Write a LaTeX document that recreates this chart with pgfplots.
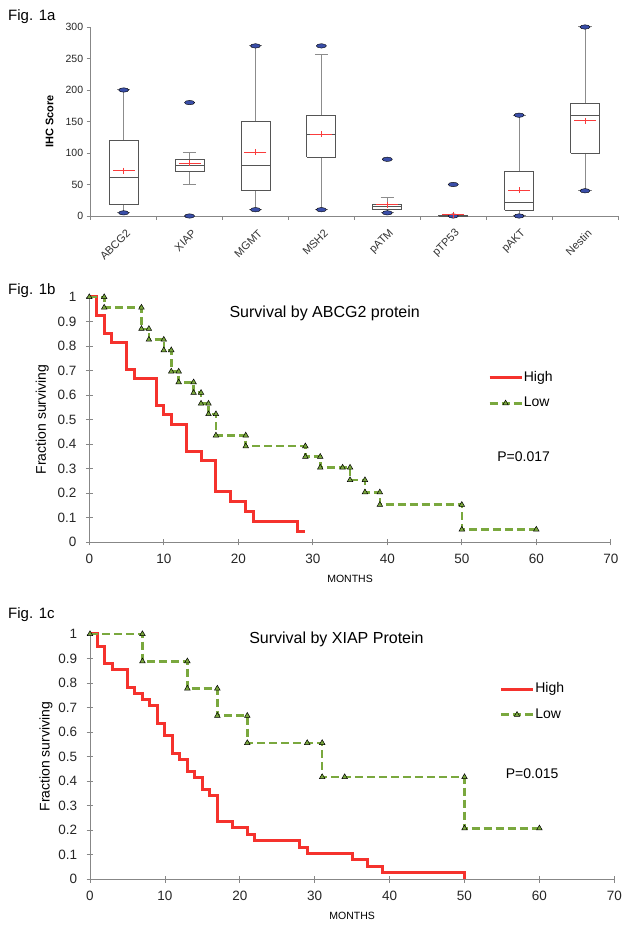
\documentclass[border=0pt]{standalone}
\usepackage{pgfplots}
\pgfplotsset{compat=1.18}
\usepackage{fontspec}
\setmainfont{Liberation Sans}
\definecolor{kmred}{RGB}{245,50,45}
\definecolor{kmgreen}{RGB}{122,168,62}
\definecolor{bluedot}{RGB}{58,78,168}
\definecolor{axgray}{RGB}{135,135,135}
\definecolor{boxgray}{RGB}{85,85,85}
\definecolor{whgray}{RGB}{140,140,140}
\definecolor{meanred}{RGB}{250,60,60}
\newcommand{\fs}[1]{\fontsize{#1bp}{#1bp}\selectfont}
\begin{document}
\begin{tikzpicture}
\useasboundingbox (0bp,0bp) rectangle (631bp,931bp);
\node[anchor=base west, inner sep=0pt, font=\fs{15}] at (8bp,910.3bp) {Fig. 1a};
\node[anchor=base west, inner sep=0pt, font=\fs{15}] at (8bp,636bp) {Fig. 1b};
\node[anchor=base west, inner sep=0pt, font=\fs{15}] at (8bp,312bp) {Fig. 1c};

% ---------------- Panel a: box plots ----------------
\begin{axis}[
  at={(90.7bp,715bp)}, anchor=south west, scale only axis,
  width=527.3bp, height=189bp,
  xmin=0.5, xmax=8.5, ymin=0, ymax=300,
  ytick={0,50,100,150,200,250,300},
  xtick={0.5,1.5,2.5,3.5,4.5,5.5,6.5,7.5,8.5},
  x tick label as interval,
  xticklabels={ABCG2,XIAP,MGMT,MSH2,pATM,pTP53,pAKT,Nestin,{}},
  axis x line=bottom, axis y line=left,
  axis line style={-, draw=axgray, line width=0.8bp},
  tick style={draw=axgray, line width=0.8bp},
  tick align=outside, major tick length=4bp,
  /pgf/number format/assume math mode=true,
  yticklabel style={font=\fs{10.5}, text=black!85},
  xticklabel style={font=\fs{11}, text=black!80, rotate=45, anchor=east, inner sep=1bp, xshift=-3.8bp, yshift=-11.5bp},
  ylabel={\bfseries IHC Score},
  ylabel style={at={(axis description cs:-0.078,0.5)}, anchor=center, font=\fs{11}},
  clip=false,
  unbounded coords=jump,
]
% whiskers with caps
\addplot[draw=whgray, line width=1bp, mark=none] coordinates {
(1,120)(1,200)(0,nan)(0.9,200)(1.1,200)(0,nan)(1,19)(1,5)(0,nan)(0.9,5)(1.1,5)(0,nan)
(2,90)(2,100)(0,nan)(1.9,100)(2.1,100)(0,nan)(2,70)(2,50)(0,nan)(1.9,50)(2.1,50)(0,nan)
(3,150)(3,270)(0,nan)(2.9,270)(3.1,270)(0,nan)(3,40)(3,10)(0,nan)(2.9,10)(3.1,10)(0,nan)
(4,160)(4,257)(0,nan)(3.9,257)(4.1,257)(0,nan)(4,93)(4,10)(0,nan)(3.9,10)(4.1,10)(0,nan)
(5,19)(5,30)(0,nan)(4.9,30)(5.1,30)(0,nan)(5,10)(5,5)(0,nan)(4.9,5)(5.1,5)(0,nan)
(7,70)(7,160)(0,nan)(6.9,160)(7.1,160)(0,nan)(7,9)(7,0)(0,nan)(6.9,0)(7.1,0)(0,nan)
(8,179)(8,300)(0,nan)(7.9,300)(8.1,300)(0,nan)(8,100)(8,40)(0,nan)(7.9,40)(8.1,40)};
% boxes (lower quartile to upper quartile)
\addplot[draw=boxgray, line width=0.8bp, mark=none] coordinates {
(0.78,19)(1.22,19)(1.22,120)(0.78,120)(0.78,19)(0,nan)
(1.78,70)(2.22,70)(2.22,90)(1.78,90)(1.78,70)(0,nan)
(2.78,40)(3.22,40)(3.22,150)(2.78,150)(2.78,40)(0,nan)
(3.78,93)(4.22,93)(4.22,160)(3.78,160)(3.78,93)(0,nan)
(4.78,10)(5.22,10)(5.22,19)(4.78,19)(4.78,10)(0,nan)
(5.78,0)(6.22,0)(6.22,1)(5.78,1)(5.78,0)(0,nan)
(6.78,9)(7.22,9)(7.22,70)(6.78,70)(6.78,9)(0,nan)
(7.78,100)(8.22,100)(8.22,179)(7.78,179)(7.78,100)};
% medians
\addplot[draw=boxgray, line width=1bp, mark=none] coordinates {
(0.78,61)(1.22,61)(0,nan)(1.78,80)(2.22,80)(0,nan)(2.78,80)(3.22,80)(0,nan)(3.78,130)(4.22,130)(0,nan)
(4.78,15)(5.22,15)(0,nan)(5.78,0)(6.22,0)(0,nan)(6.78,22)(7.22,22)(0,nan)(7.78,160)(8.22,160)};
% minimum and maximum
\addplot[only marks, mark=*, mark size=2.2bp, mark options={xscale=2.3, fill=bluedot, draw=none}] coordinates {
(1,5)(1,200)(2,0)(2,180)(3,10)(3,270)(4,10)(4,270)(5,5)(5,90)(6,0)(6,50)(7,0)(7,160)(8,40)(8,300)};
% means
\addplot[only marks, mark=-, mark size=11bp, mark options={draw=meanred, line width=0.8bp}] coordinates {
(1,72)(2,84)(3,101)(4,130)(5,18)(6,2)(7,41)(8,151)};
\addplot[only marks, mark=|, mark size=3bp, mark options={draw=meanred, line width=0.8bp}] coordinates {
(1,72)(2,84)(3,101)(4,130)(5,18)(6,2)(7,41)(8,151)};
\end{axis}

% ---------------- Panel b ----------------
\begin{axis}[
  at={(89.3bp,389bp)}, anchor=south west, scale only axis,
  width=521.5bp, height=245bp,
  xmin=0, xmax=70, ymin=0, ymax=1,
  xtick={0,10,20,30,40,50,60,70},
  ytick={0,0.1,0.2,0.3,0.4,0.5,0.6,0.7,0.8,0.9,1},
  axis x line=bottom, axis y line=left,
  axis line style={-, draw=axgray, line width=0.8bp},
  tick style={draw=axgray, line width=0.8bp},
  tick align=center, major tick length=6.6bp,
  /pgf/number format/assume math mode=true,
  /pgf/number format/fixed,
  ticklabel style={font=\fs{13.5}, text=black!85},
  xticklabel style={yshift=-5bp},
  yticklabel style={xshift=-6bp},
  xlabel={MONTHS},
  xlabel style={at={(axis description cs:0.5,0)}, anchor=center, yshift=-37bp, font=\fs{10.5}},
  ylabel={Fraction surviving},
  ylabel style={at={(axis description cs:-0.090,0.5)}, anchor=center, font=\fs{14}},
  clip=false,
  legend style={at={(axis cs:53.5,0.618)}, anchor=west, draw=none, fill=none, inner sep=0pt,
    row sep=11bp, nodes={inner sep=0.8bp, text height=10bp, text depth=3bp, font=\fs{14}}},
  legend cell align=left,
  legend image code/.code={\draw[mark repeat=2, mark phase=2, #1] plot coordinates {(0bp,0bp) (16bp,0bp) (32bp,0bp)};},
]
\addplot[const plot, draw=kmred, line width=3bp, mark=none] coordinates {
(0,1)(1,0.926)(2,0.852)(3,0.815)(5,0.704)(6,0.667)(9,0.556)(10,0.519)(11,0.481)(13,0.370)(15,0.333)(17,0.208)(19,0.167)(21,0.125)(22,0.083)(28,0.042)(29,0.042)};
\addlegendentry{High}
\addplot[draw=kmgreen, line width=2.6bp, dash pattern=on 8bp off 4bp, mark=triangle*, mark size=3.2bp, mark options={solid, line width=0.5bp, draw=black, fill=kmgreen}] coordinates {
(0,1)(2,1)(2,0.957)(7,0.957)(7,0.870)(8,0.870)(8,0.826)(10,0.826)(10,0.783)(11,0.783)(11,0.696)(12,0.696)(12,0.652)(14,0.652)(14,0.609)(15,0.609)(15,0.565)(16,0.565)(16,0.522)(17,0.522)(17,0.435)(21,0.435)(21,0.391)(29,0.391)(29,0.348)(31,0.348)(31,0.304)(34,0.304)(35,0.304)(35,0.253)(37,0.253)(37,0.203)(39,0.203)(39,0.152)(50,0.152)(50,0.051)(60,0.051)};
\addlegendentry{Low}
\node[font=\fs{16}] at (axis cs:31.6,0.933) {Survival by ABCG2 protein};
\node[anchor=west, font=\fs{14}] at (axis cs:54.3,0.347) {P=0.017};
\end{axis}

% ---------------- Panel c ----------------
\begin{axis}[
  at={(90bp,51.7bp)}, anchor=south west, scale only axis,
  width=524.3bp, height=245.3bp,
  xmin=0, xmax=70, ymin=0, ymax=1,
  xtick={0,10,20,30,40,50,60,70},
  ytick={0,0.1,0.2,0.3,0.4,0.5,0.6,0.7,0.8,0.9,1},
  axis x line=bottom, axis y line=left,
  axis line style={-, draw=axgray, line width=0.8bp},
  tick style={draw=axgray, line width=0.8bp},
  tick align=center, major tick length=6.6bp,
  /pgf/number format/assume math mode=true,
  /pgf/number format/fixed,
  ticklabel style={font=\fs{13.5}, text=black!85},
  xticklabel style={yshift=-5bp},
  yticklabel style={xshift=-6bp},
  xlabel={MONTHS},
  xlabel style={at={(axis description cs:0.5,0)}, anchor=center, yshift=-37bp, font=\fs{10.5}},
  ylabel={Fraction surviving},
  ylabel style={at={(axis description cs:-0.084,0.5)}, anchor=center, font=\fs{14}},
  clip=false,
  legend style={at={(axis cs:54.65,0.723)}, anchor=west, draw=none, fill=none, inner sep=0pt,
    row sep=11bp, nodes={inner sep=0.8bp, text height=10bp, text depth=3bp, font=\fs{14}}},
  legend cell align=left,
  legend image code/.code={\draw[mark repeat=2, mark phase=2, #1] plot coordinates {(0bp,0bp) (16bp,0bp) (32bp,0bp)};},
]
\addplot[const plot, draw=kmred, line width=3bp, mark=none] coordinates {
(0,1)(1,0.951)(2,0.878)(3,0.854)(5,0.780)(6,0.756)(7,0.732)(8,0.707)(9,0.634)(10,0.585)(11,0.512)(12,0.488)(13,0.439)(14,0.415)(15,0.366)(16,0.341)(17,0.236)(19,0.210)(21,0.184)(22,0.158)(28,0.131)(29,0.105)(35,0.079)(37,0.053)(39,0.026)(50,0)};
\addlegendentry{High}
\addplot[draw=kmgreen, line width=2.6bp, dash pattern=on 8bp off 4bp, mark=triangle*, mark size=3.2bp, mark options={solid, line width=0.5bp, draw=black, fill=kmgreen}] coordinates {
(0,1)(7,1)(7,0.889)(13,0.889)(13,0.778)(17,0.778)(17,0.667)(21,0.667)(21,0.556)(29,0.556)(31,0.556)(31,0.417)(34,0.417)(50,0.417)(50,0.208)(60,0.208)};
\addlegendentry{Low}
\node[font=\fs{16}] at (axis cs:32.9,0.978) {Survival by XIAP Protein};
\node[anchor=west, font=\fs{14}] at (axis cs:55.05,0.432) {P=0.015};
\end{axis}
\end{tikzpicture}
\end{document}
